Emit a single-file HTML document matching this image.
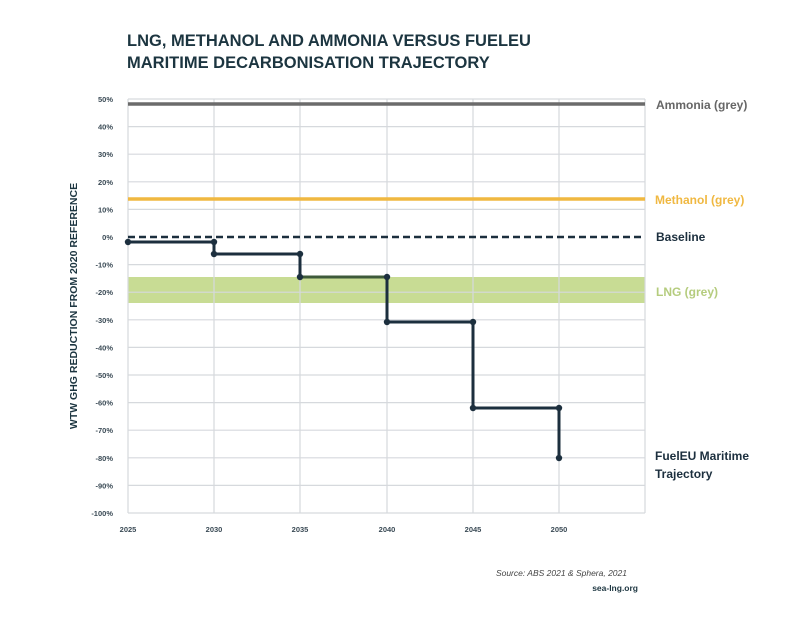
<!DOCTYPE html>
<html><head><meta charset="utf-8"><style>
body{margin:0;background:#fff;}
svg{display:block;font-family:"Liberation Sans",sans-serif;}
</style></head><body>
<svg width="800" height="619" viewBox="0 0 800 619" xmlns="http://www.w3.org/2000/svg">
<rect width="800" height="619" fill="#fff"/>
<text x="127" y="46" font-size="16.5" font-weight="bold" fill="#1c3540">LNG, METHANOL AND AMMONIA VERSUS FUELEU</text>
<text x="127" y="68" font-size="16.5" font-weight="bold" fill="#1c3540">MARITIME DECARBONISATION TRAJECTORY</text>
<!-- LNG band -->
<rect x="128" y="277" width="517" height="26" fill="#c8dc94"/>
<!-- grid -->
<g stroke="#d6d9dd" stroke-width="1.2">
<line x1="128" y1="99" x2="645" y2="99"/><line x1="128" y1="126.6" x2="645" y2="126.6"/><line x1="128" y1="154.2" x2="645" y2="154.2"/><line x1="128" y1="181.8" x2="645" y2="181.8"/><line x1="128" y1="209.4" x2="645" y2="209.4"/><line x1="128" y1="264.6" x2="645" y2="264.6"/><line x1="128" y1="292.2" x2="645" y2="292.2"/><line x1="128" y1="319.8" x2="645" y2="319.8"/><line x1="128" y1="347.4" x2="645" y2="347.4"/><line x1="128" y1="375" x2="645" y2="375"/><line x1="128" y1="402.6" x2="645" y2="402.6"/><line x1="128" y1="430.2" x2="645" y2="430.2"/><line x1="128" y1="457.8" x2="645" y2="457.8"/><line x1="128" y1="485.4" x2="645" y2="485.4"/><line x1="128" y1="513" x2="645" y2="513"/>
<line x1="128" y1="99" x2="128" y2="513"/><line x1="214" y1="99" x2="214" y2="513"/><line x1="300" y1="99" x2="300" y2="513"/><line x1="387" y1="99" x2="387" y2="513"/><line x1="473" y1="99" x2="473" y2="513"/><line x1="559" y1="99" x2="559" y2="513"/><line x1="645" y1="99" x2="645" y2="513"/>
</g>
<line x1="128" y1="104" x2="645" y2="104" stroke="#6b6b6b" stroke-width="3.5"/>
<line x1="128" y1="199" x2="645" y2="199" stroke="#f0b841" stroke-width="3.5"/>
<line x1="128" y1="237" x2="645" y2="237" stroke="#1c2f3e" stroke-width="2.5" stroke-dasharray="7,4"/>
<polyline fill="none" stroke="#1c2f3e" stroke-width="3" points="128,242 214,242 214,254 300,254 300,277 387,277 387,322 473,322 473,408 559,408 559,458"/>
<line x1="300" y1="277" x2="387" y2="277" stroke="#3e5a3a" stroke-width="3"/>
<g fill="#1c2f3e"><circle cx="128" cy="242" r="3.2"/><circle cx="214" cy="242" r="3.2"/><circle cx="214" cy="254" r="3.2"/><circle cx="300" cy="254" r="3.2"/><circle cx="300" cy="277" r="3.2"/><circle cx="387" cy="277" r="3.2"/><circle cx="387" cy="322" r="3.2"/><circle cx="473" cy="322" r="3.2"/><circle cx="473" cy="408" r="3.2"/><circle cx="559" cy="408" r="3.2"/><circle cx="559" cy="458" r="3.2"/></g>
<g font-size="7.5" font-weight="bold" fill="#3a4a55" text-anchor="end">
<text x="113" y="102">50%</text><text x="113" y="129.6">40%</text><text x="113" y="157.2">30%</text><text x="113" y="184.8">20%</text><text x="113" y="212.4">10%</text><text x="113" y="240">0%</text><text x="113" y="267.6">-10%</text><text x="113" y="295.2">-20%</text><text x="113" y="322.8">-30%</text><text x="113" y="350.4">-40%</text><text x="113" y="378">-50%</text><text x="113" y="405.6">-60%</text><text x="113" y="433.2">-70%</text><text x="113" y="460.8">-80%</text><text x="113" y="488.4">-90%</text><text x="113" y="516">-100%</text>
</g>
<g font-size="7.5" font-weight="bold" fill="#3a4a55" text-anchor="middle">
<text x="128" y="532">2025</text><text x="214" y="532">2030</text><text x="300" y="532">2035</text><text x="387" y="532">2040</text><text x="473" y="532">2045</text><text x="559" y="532">2050</text>
</g>
<text transform="translate(77,306) rotate(-90)" font-size="10.5" font-weight="bold" fill="#1c3540" text-anchor="middle">WTW GHG REDUCTION FROM 2020 REFERENCE</text>
<g font-size="12" font-weight="bold">
<text x="656" y="109" fill="#666">Ammonia (grey)</text>
<text x="655" y="204" fill="#f0b841">Methanol (grey)</text>
<text x="656" y="241" fill="#1c2f3e">Baseline</text>
<text x="656" y="296" fill="#b5cc7e">LNG (grey)</text>
<text x="655" y="460" fill="#1c2f3e">FuelEU Maritime</text>
<text x="655" y="478" fill="#1c2f3e">Trajectory</text>
</g>
<text x="627" y="576" font-size="8.5" font-style="italic" fill="#444" text-anchor="end">Source: ABS 2021 &amp; Sphera, 2021</text>
<text x="638" y="591" font-size="8.5" font-weight="bold" fill="#1c3540" text-anchor="end">sea-lng.org</text>
</svg>
</body></html>
